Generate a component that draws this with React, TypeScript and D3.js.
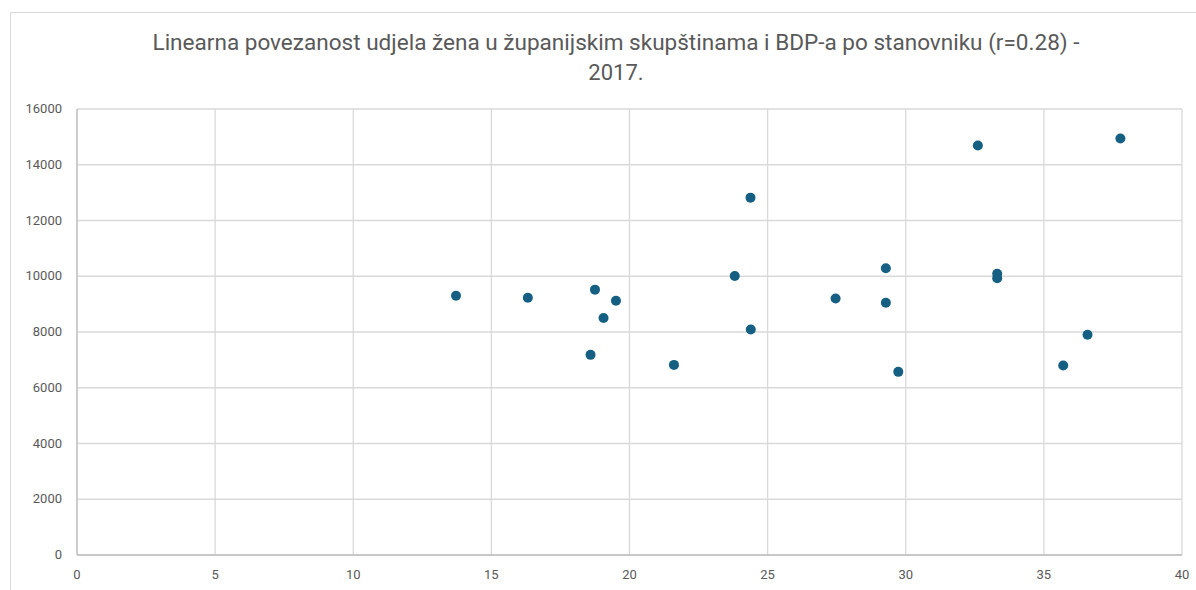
import * as d3 from 'd3';
import { useEffect, useRef } from 'react';

// udio žena u županijskim skupštinama (%)
const shareWomen = [
  13.72, 16.32, 18.75, 19.51, 19.06, 18.59, 21.61, 23.81, 24.39, 24.38,
  27.46, 29.28, 29.28, 29.73, 32.61, 33.31, 33.31, 37.77, 36.58, 35.7,
];
// BDP po stanovniku
const gdpPerCapita = [
  9300, 9230, 9520, 9120, 8500, 7180, 6820, 10010, 8090, 12820,
  9200, 10290, 9050, 6570, 14690, 10090, 9930, 14940, 7900, 6800,
];

const xTicks = [0, 5, 10, 15, 20, 25, 30, 35, 40];
const yTicks = [0, 2000, 4000, 6000, 8000, 10000, 12000, 14000, 16000];

const titleLines = [
  'Linearna povezanost udjela žena u županijskim skupštinama i BDP-a po stanovniku (r=0.28) -',
  '2017.',
];

export default function App() {
  const ref = useRef<SVGSVGElement>(null);

  useEffect(() => {
    const width = 1196;
    const height = 590;
    const margin = { top: 109, right: 14, bottom: 35, left: 77 };
    const font = 'Roboto, "Noto Sans", sans-serif';

    const svg = d3.select(ref.current);
    svg.selectAll('*').remove();

    // chart frame
    svg.append('path')
      .attr('d', `M10.5,${height} V12.5 H${width}`)
      .attr('fill', 'none')
      .attr('stroke', '#d9d9d9')
      .attr('stroke-width', 1);

    // title, first line squeezed to the reference width
    svg.append('g')
      .selectAll('text')
      .data(titleLines)
      .join('text')
      .attr('x', 616)
      .attr('y', (_, i) => 50 + i * 30)
      .attr('text-anchor', 'middle')
      .attr('font-family', font)
      .attr('font-size', 22)
      .attr('fill', '#595959')
      .attr('textLength', (_, i) => (i === 0 ? 927 : null))
      .attr('lengthAdjust', 'spacingAndGlyphs')
      .text(d => d);

    const x = d3.scaleLinear().domain([0, 40]).range([margin.left, width - margin.right]);
    const y = d3.scaleLinear().domain([0, 16000]).range([height - margin.bottom, margin.top]);

    const grid = svg.append('g').attr('stroke', '#d9d9d9').attr('stroke-width', 1.3);
    grid.selectAll('.vx')
      .data(xTicks)
      .join('line')
      .attr('x1', d => x(d)).attr('x2', d => x(d))
      .attr('y1', y(0)).attr('y2', y(16000));
    grid.selectAll('.hy')
      .data(yTicks)
      .join('line')
      .attr('x1', x(0)).attr('x2', x(40))
      .attr('y1', d => y(d)).attr('y2', d => y(d));

    // axis lines a bit darker
    svg.append('line')
      .attr('x1', x(0)).attr('x2', x(40)).attr('y1', y(0)).attr('y2', y(0))
      .attr('stroke', '#bfbfbf').attr('stroke-width', 1.3);
    svg.append('line')
      .attr('x1', x(0)).attr('x2', x(0)).attr('y1', y(0)).attr('y2', y(16000))
      .attr('stroke', '#bfbfbf').attr('stroke-width', 1.3);

    svg.append('g')
      .selectAll('text')
      .data(xTicks)
      .join('text')
      .attr('x', d => x(d))
      .attr('y', y(0) + 24)
      .attr('text-anchor', 'middle')
      .attr('font-family', font)
      .attr('font-size', 13)
      .attr('fill', '#595959')
      .text(d => d);

    svg.append('g')
      .selectAll('text')
      .data(yTicks)
      .join('text')
      .attr('x', 62)
      .attr('y', d => y(d) + 4)
      .attr('text-anchor', 'end')
      .attr('font-family', font)
      .attr('font-size', 13)
      .attr('fill', '#595959')
      .text(d => d);

    svg.append('g')
      .selectAll('circle')
      .data(shareWomen.map((v, i) => ({ x: v, y: gdpPerCapita[i] })))
      .join('circle')
      .attr('cx', d => x(d.x))
      .attr('cy', d => y(d.y))
      .attr('r', 5)
      .attr('fill', '#156082');
  }, []);

  return (
    <svg
      ref={ref}
      width={1196}
      height={590}
      style={{ position: 'absolute', left: 0, top: 0, background: '#fff' }}
    />
  );
}
